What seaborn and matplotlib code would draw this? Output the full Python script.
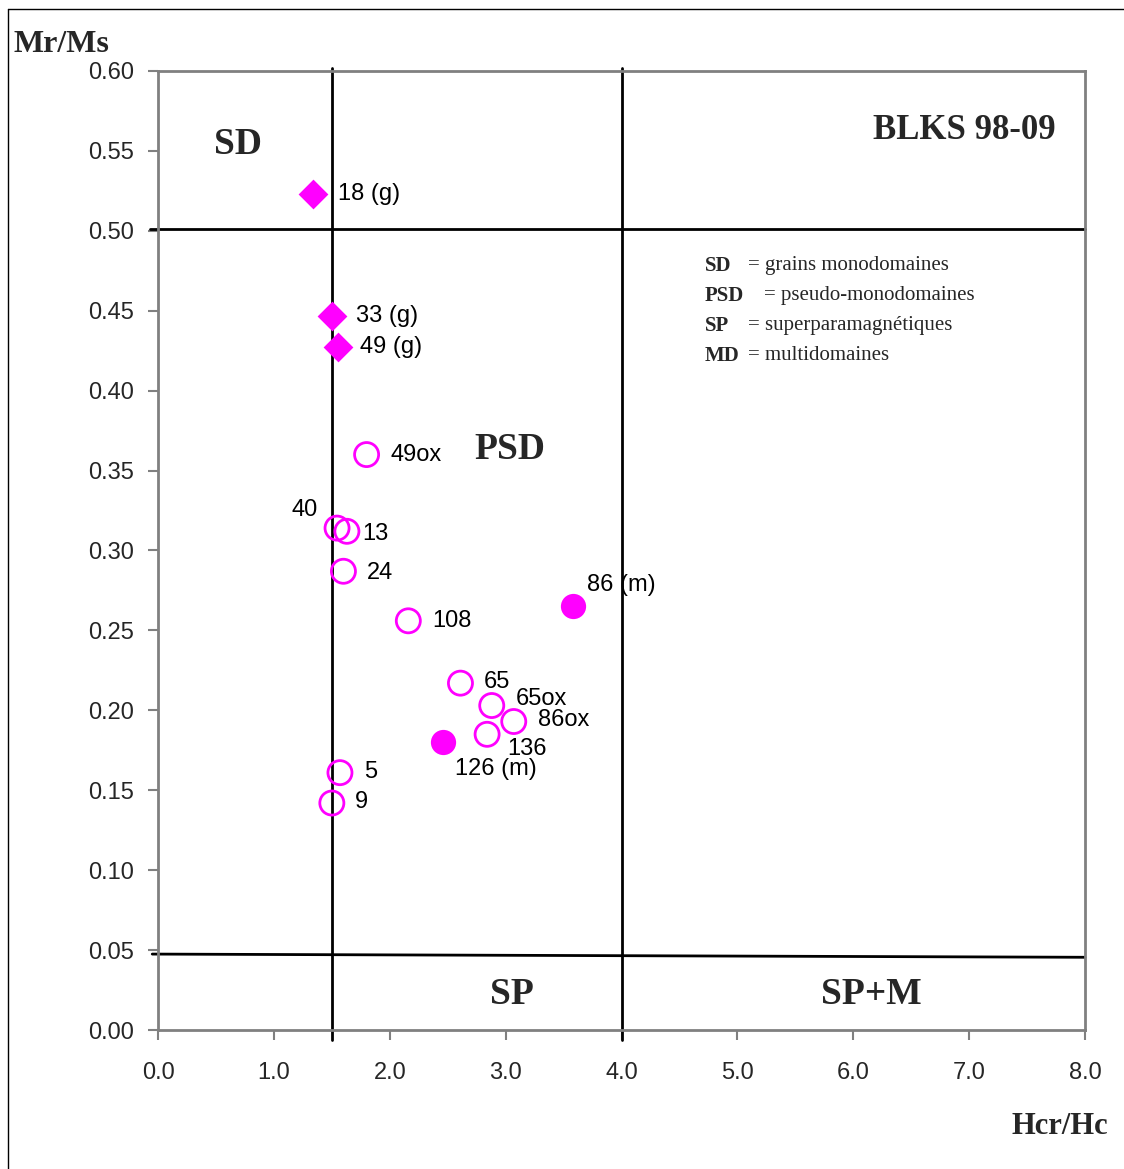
import pandas as pd
import seaborn as sns
import matplotlib.pyplot as plt
from matplotlib.lines import Line2D

# --- data ---
grain_x = [1.34, 1.50, 1.55]
grain_y = [0.523, 0.447, 0.427]
grain_lab = ["18 (g)", "33 (g)", "49 (g)"]

open_x = [1.80, 1.545, 1.63, 1.60, 2.16, 2.61, 2.88, 3.07, 2.84, 1.57, 1.50]
open_y = [0.360, 0.314, 0.312, 0.287, 0.256, 0.217, 0.203, 0.193, 0.185, 0.161, 0.142]
open_lab = ["49ox", "40", "13", "24", "108", "65", "65ox", "86ox", "136", "5", "9"]

mag_x = [3.58, 2.46]
mag_y = [0.265, 0.180]
mag_lab = ["86 (m)", "126 (m)"]

xticks = [0, 1, 2, 3, 4, 5, 6, 7, 8]
yticks = [0.00, 0.05, 0.10, 0.15, 0.20, 0.25, 0.30, 0.35, 0.40, 0.45, 0.50, 0.55, 0.60]

legend_keys = ["SD", "PSD", "SP", "MD"]
legend_text = ["= grains monodomaines", "= pseudo-monodomaines",
               "= superparamagnétiques", "= multidomaines"]

grains = pd.DataFrame({"x": grain_x, "y": grain_y, "label": grain_lab})
opens = pd.DataFrame({"x": open_x, "y": open_y, "label": open_lab})
mags = pd.DataFrame({"x": mag_x, "y": mag_y, "label": mag_lab})

sns.set_style("white")
plt.rcParams['font.family'] = ['Liberation Sans', 'DejaVu Sans']

MAG = "#FF00FF"
GREY = "#808080"
SERIF = ['Liberation Serif', 'DejaVu Serif']

fig = plt.figure(figsize=(11.24, 11.69), dpi=100)
ax = fig.add_axes([0.1406, 0.1189, 0.8247, 0.8204])

# classification lines
ax.plot([1.5, 1.5], [-0.006, 0.602], color="black", lw=2, clip_on=False, zorder=1)
ax.plot([4.0, 4.0], [-0.006, 0.602], color="black", lw=2, clip_on=False, zorder=1)
ax.plot([-0.07, 8.0], [0.501, 0.501], color="black", lw=2, clip_on=False, zorder=1)
ax.plot([-0.05, 8.0], [0.0475, 0.0455], color="black", lw=2, clip_on=False, zorder=1)

sns.scatterplot(data=grains, x="x", y="y", marker="D", s=230, color=MAG,
                edgecolor=MAG, linewidth=0, ax=ax, zorder=3)
sns.scatterplot(data=opens, x="x", y="y", marker="o", s=300, facecolor="none",
                edgecolor=MAG, linewidth=2, ax=ax, zorder=3)
sns.scatterplot(data=mags, x="x", y="y", marker="o", s=330, color=MAG,
                edgecolor=MAG, linewidth=0, ax=ax, zorder=3)

# point labels, offsets in pixels
offsets = {
    "18 (g)": (25, 0, "left"), "33 (g)": (24, 0, "left"), "49 (g)": (22, 0, "left"),
    "49ox": (24, 0, "left"), "40": (-19, 18, "right"), "13": (15, -3, "left"),
    "24": (23, -2, "left"), "108": (24, 0, "left"), "65": (23, 1, "left"),
    "65ox": (24, 7, "left"), "86ox": (24, 2, "left"), "136": (20, -15, "left"),
    "5": (24, 1, "left"), "9": (23, 1, "left"),
    "86 (m)": (14, 21, "left"), "126 (m)": (12, -27, "left"),
}
for df in (grains, opens, mags):
    for _, r in df.iterrows():
        dx, dy, ha = offsets[r["label"]]
        ax.annotate(r["label"], (r["x"], r["y"]), xytext=(dx, dy),
                    textcoords="offset pixels", ha=ha, va="center",
                    fontsize=17, color="black", zorder=4)

# region names
for txt, x, y in [("SD", 0.69, 0.554), ("PSD", 3.04, 0.363),
                  ("SP", 3.05, 0.022), ("SP+M", 6.16, 0.022)]:
    ax.text(x, y, txt, ha="center", va="center", fontsize=27,
            fontweight="bold", family=SERIF)
ax.text(7.75, 0.563, "BLKS 98-09", ha="right", va="center", fontsize=25,
        fontweight="bold", family=SERIF)

# key box text
for i, (k, t) in enumerate(zip(legend_keys, legend_text)):
    yy = 0.478 - i * 0.0187
    ax.text(4.72, yy, k, ha="left", va="center", fontsize=15,
            fontweight="bold", family=SERIF)
    ax.text(4.72 + (0.37 if len(k) == 2 else 0.51), yy, t, ha="left",
            va="center", fontsize=15, family=SERIF)

ax.set_xlim(0, 8)
ax.set_ylim(0, 0.6)
ax.set_xticks(xticks)
ax.set_xticklabels([f"{v:.1f}" for v in xticks])
ax.set_yticks(yticks)
ax.set_yticklabels([f"{v:.2f}" for v in yticks])
ax.tick_params(axis="both", direction="out", length=7, width=1.5, color=GREY,
               labelsize=17, bottom=True, left=True)
ax.tick_params(axis="x", pad=16)
ax.tick_params(axis="y", pad=10)
for sp in ax.spines.values():
    sp.set_color(GREY)
    sp.set_linewidth(2)
ax.set_xlabel("")
ax.set_ylabel("")

fig.text(14 / 1124, 1 - 44 / 1169, "Mr/Ms", ha="left", va="center",
         fontsize=23, fontweight="bold", family=SERIF)
fig.text(1108 / 1124, 1 - 1126 / 1169, "Hcr/Hc", ha="right", va="center",
         fontsize=22, fontweight="bold", family=SERIF)

# outer frame lines
fig.add_artist(Line2D([8 / 1124, 8 / 1124], [0, 1 - 9 / 1169], color="black", lw=1))
fig.add_artist(Line2D([8 / 1124, 1], [1 - 9 / 1169, 1 - 9 / 1169], color="black", lw=1))

fig.savefig("out.png", dpi=100)
